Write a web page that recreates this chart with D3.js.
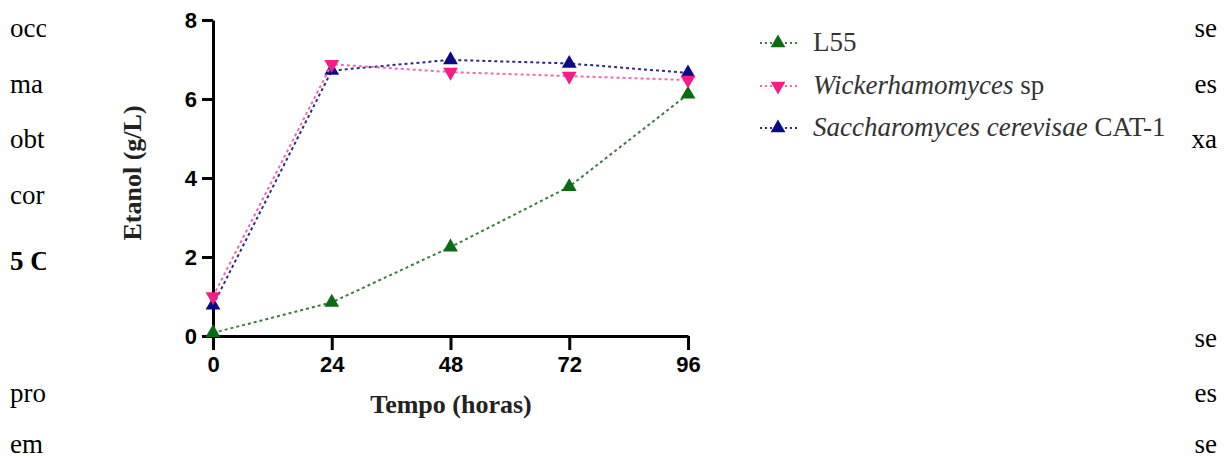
<!DOCTYPE html>
<html>
    <head>
        <meta charset="utf-8">
        <title>Etanol</title>
        <style>
body {
    margin: 0;
    background-color: white;
}

svg {
    display: block;
    background-color: white;
}

.doc {
    font-family: "Liberation Serif", "Times New Roman", serif;
    font-size: 27px;
    fill: #000;
}

.axis path,
.axis line {
    stroke: #000;
    stroke-width: 3;
    fill: none;
}

.axis text {
    font-family: "Liberation Sans", Arial, sans-serif;
    font-weight: bold;
    font-size: 22px;
    fill: #000;
}

.title {
    font-family: "Liberation Serif", "Times New Roman", serif;
    font-weight: bold;
    font-size: 26px;
    fill: #222;
}

.legend text {
    font-family: "Liberation Serif", "Times New Roman", serif;
    font-size: 27px;
    fill: #333;
}
</style>
        <script src="https://cdn.jsdelivr.net/npm/d3@7"></script>
    </head>
    <body>
        <script>
var width = 1232,
    height = 459;

// data
var hours = [0, 24, 48, 72, 96];
var l55 = [0.08, 0.85, 2.25, 3.78, 6.12];
var wickerhamomyces = [1.0, 6.88, 6.68, 6.58, 6.48];
var saccharomyces = [0.78, 6.72, 6.99, 6.9, 6.66];
var yTicks = [0, 2, 4, 6, 8];

// page text around the figure
var leftWords = ["occ", "ma", "obt", "cor", "5 C", "pro", "em"];
var leftLines = [37, 93, 148, 204, 270, 402, 453];
var rightWords = ["se", "es", "xa", "se", "es", "se"];
var rightLines = [37, 93, 148, 347, 402, 453];

var series = [
    {name: "L55", values: l55, line: "#3f7a3f", fill: "#0a6b12", down: false},
    {name: "Saccharomyces cerevisae", suffix: " CAT-1", values: saccharomyces, line: "#2a2a8a", fill: "#0b0b8a", down: false},
    {name: "Wickerhamomyces", suffix: " sp", values: wickerhamomyces, line: "#f06aa8", fill: "#f21e86", down: true}
];
var legendOrder = [0, 2, 1];

var svg = d3.select('body')
    .append('svg')
    .attr('width', width)
    .attr('height', height);

svg.selectAll('text.left')
    .data(leftWords)
    .enter().append('text')
    .attr('class', 'doc left')
    .attr('x', 10)
    .attr('y', function (d, i) { return leftLines[i]; })
    .style('font-weight', function (d) { return d === "5 C" ? "bold" : null; })
    .text(function (d) { return d; });

svg.selectAll('text.right')
    .data(rightWords)
    .enter().append('text')
    .attr('class', 'doc right')
    .attr('x', 1217)
    .attr('text-anchor', 'end')
    .attr('y', function (d, i) { return rightLines[i]; })
    .text(function (d) { return d; });

// the figure sits on top of the page text
svg.append('rect')
    .attr('x', 46)
    .attr('y', 0)
    .attr('width', 1144)
    .attr('height', height)
    .attr('fill', 'white');

var x = d3.scaleLinear().domain([0, 96]).range([213, 688]);
var y = d3.scaleLinear().domain([0, 8]).range([336, 20]);

svg.append('g')
    .attr('class', 'axis')
    .attr('transform', 'translate(0,' + y(0) + ')')
    .call(d3.axisBottom(x).tickValues(hours).tickSize(14).tickSizeOuter(0).tickPadding(6));

svg.append('g')
    .attr('class', 'axis')
    .attr('transform', 'translate(' + x(0) + ',0)')
    .call(d3.axisLeft(y).tickValues(yTicks).tickSize(11).tickSizeOuter(0).tickPadding(5));

svg.append('text')
    .attr('class', 'title')
    .attr('text-anchor', 'middle')
    .attr('x', 451)
    .attr('y', 413)
    .text('Tempo (horas)');

svg.append('text')
    .attr('class', 'title')
    .attr('text-anchor', 'middle')
    .attr('transform', 'translate(141,173) rotate(-90)')
    .text('Etanol (g/L)');

var line = d3.line()
    .x(function (d, i) { return x(hours[i]); })
    .y(function (d) { return y(d); });

var tri = d3.symbol().type(d3.symbolTriangle).size(95);

series.forEach(function (s) {
    svg.append('path')
        .attr('d', line(s.values))
        .attr('fill', 'none')
        .attr('stroke', s.line)
        .attr('stroke-width', 2)
        .attr('stroke-dasharray', '3,3');

    svg.selectAll(null)
        .data(s.values)
        .enter().append('path')
        .attr('d', tri)
        .attr('fill', s.fill)
        .attr('transform', function (d, i) {
            return 'translate(' + x(hours[i]) + ',' + y(d) + ')' + (s.down ? ' rotate(180)' : '');
        });
});

var legend = svg.append('g').attr('class', 'legend');
var rowY = [43, 86, 128];

legendOrder.forEach(function (k, r) {
    var s = series[k];
    var g = legend.append('g').attr('transform', 'translate(0,' + rowY[r] + ')');
    g.append('line')
        .attr('x1', 760).attr('x2', 797)
        .attr('y1', 0).attr('y2', 0)
        .attr('stroke', s.line)
        .attr('stroke-width', 2)
        .attr('stroke-dasharray', '2,3');
    g.append('path')
        .attr('d', tri)
        .attr('fill', s.fill)
        .attr('transform', 'translate(778,0)' + (s.down ? ' rotate(180)' : ''));
    var t = g.append('text').attr('x', 813).attr('y', 8);
    if (s.suffix) {
        t.append('tspan').style('font-style', 'italic').text(s.name);
        t.append('tspan').text(s.suffix);
    } else {
        t.text(s.name);
    }
});

        </script>
    </body>
</html>
